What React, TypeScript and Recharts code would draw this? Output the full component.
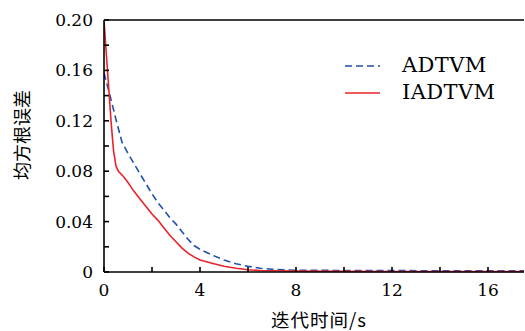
import React from 'react';
import { LineChart, Line, XAxis, YAxis, ReferenceLine, Legend, Label } from 'recharts';

const seriesNames = ['ADTVM', 'IADTVM'];
const adtvmTime = [0, 0.25, 0.5, 0.75, 1.0, 1.25, 1.5, 1.75, 2.0, 2.25, 2.5, 2.75, 3.0, 3.25, 3.5, 3.75, 4.0, 4.5, 5.0, 5.5, 6.0, 6.5, 7.0, 7.5, 8, 9, 10, 12, 14, 16, 17.5];
const adtvmValues = [0.158, 0.14, 0.121, 0.103, 0.094, 0.086, 0.078, 0.07, 0.062, 0.055, 0.049, 0.043, 0.038, 0.032, 0.026, 0.021, 0.018, 0.0135, 0.0095, 0.0065, 0.0045, 0.003, 0.0022, 0.0017, 0.0014, 0.0013, 0.0012, 0.0011, 0.001, 0.001, 0.001];
const iadtvmTime = [0, 0.1, 0.2, 0.3, 0.4, 0.5, 0.6, 0.8, 1.0, 1.25, 1.5, 1.75, 2.0, 2.25, 2.5, 2.75, 3.0, 3.25, 3.5, 3.75, 4.0, 4.5, 5.0, 5.5, 6.0, 6.5, 7.0, 8, 10, 12, 14, 16, 17.5];
const iadtvmValues = [0.2, 0.172, 0.145, 0.118, 0.096, 0.084, 0.08, 0.076, 0.071, 0.064, 0.058, 0.052, 0.046, 0.041, 0.035, 0.029, 0.024, 0.019, 0.015, 0.012, 0.0095, 0.007, 0.0045, 0.003, 0.0018, 0.0012, 0.001, 0.0007, 0.0005, 0.0004, 0.0004, 0.0004, 0.0004];
const xTicks = [0, 2, 4, 6, 8, 10, 12, 14, 16];
const yTicks = [0, 0.02, 0.04, 0.06, 0.08, 0.1, 0.12, 0.14, 0.16, 0.18, 0.2];
const xLabel = '迭代时间/s';
const yLabel = '均方根误差';

const adtvmData = adtvmTime.map((t, i) => ({ t, v: adtvmValues[i] }));
const iadtvmData = iadtvmTime.map((t, i) => ({ t, v: iadtvmValues[i] }));

const BLUE = '#2050b0';
const RED = '#e8232b';
const SERIF = '"DejaVu Serif", serif';

const LegendContent = () => (
  <div style={{ fontFamily: SERIF, fontSize: 21, color: '#000', lineHeight: '27px', letterSpacing: 0.4 }}>
    {[{ n: seriesNames[0], c: BLUE, d: '7 4' }, { n: seriesNames[1], c: RED, d: undefined }].map((s) => (
      <div key={s.n} style={{ display: 'flex', alignItems: 'center', height: 27 }}>
        <svg width={35} height={10} style={{ marginRight: 22 }}>
          <line x1={0} y1={5} x2={35} y2={5} stroke={s.c} strokeWidth={1.6} strokeDasharray={s.d} />
        </svg>
        <span>{s.n}</span>
      </div>
    ))}
  </div>
);

export default function App() {
  return (
    <div style={{ position: 'absolute', left: 0, top: 0 }}>
      <LineChart width={525} height={331} margin={{ top: 20, right: 1, bottom: 0, left: 0 }}>
        <XAxis
          type="number"
          dataKey="t"
          domain={[0, 17.5]}
          ticks={xTicks}
          allowDataOverflow
          height={59}
          tickSize={-5}
          tickMargin={17}
          tickFormatter={(v: number) => (v % 4 === 0 ? String(v) : '')}
          stroke="#000"
          strokeWidth={1.6}
          tick={{ fill: '#000', fontFamily: SERIF, fontSize: 17 }}
        >
          <Label
            value={xLabel}
            position="insideBottom"
            offset={4}
            dx={5}
            style={{ fill: '#000', fontFamily: '"Noto Sans CJK SC", serif', fontSize: 18.5, letterSpacing: 1 }}
          />
        </XAxis>
        <YAxis
          type="number"
          domain={[0, 0.2]}
          ticks={yTicks}
          width={104}
          tickSize={-5}
          tickMargin={16}
          tickFormatter={(v: number, i: number) => (v === 0 ? '0' : i % 2 === 0 ? v.toFixed(2) : '')}
          stroke="#000"
          strokeWidth={1.6}
          tick={{ fill: '#000', fontFamily: SERIF, fontSize: 17 }}
        >
          <Label
            value={yLabel}
            angle={-90}
            position="insideLeft"
            offset={23}
            dy={-11}
            style={{ fill: '#000', fontFamily: '"Noto Sans CJK SC", serif', fontSize: 18, textAnchor: 'middle' }}
          />
        </YAxis>
        <ReferenceLine y={0.2} stroke="#000" strokeWidth={1.6} />
        <Legend
          layout="vertical"
          verticalAlign="middle"
          align="center"
          content={<LegendContent />}
          wrapperStyle={{ left: 345, top: 52, width: 175 }}
        />
        <Line
          data={adtvmData}
          dataKey="v"
          name={seriesNames[0]}
          type="linear"
          stroke={BLUE}
          strokeWidth={1.6}
          strokeDasharray="7 4"
          dot={false}
          isAnimationActive={false}
        />
        <Line
          data={iadtvmData}
          dataKey="v"
          name={seriesNames[1]}
          type="linear"
          stroke={RED}
          strokeWidth={1.6}
          dot={false}
          isAnimationActive={false}
        />
      </LineChart>
    </div>
  );
}
